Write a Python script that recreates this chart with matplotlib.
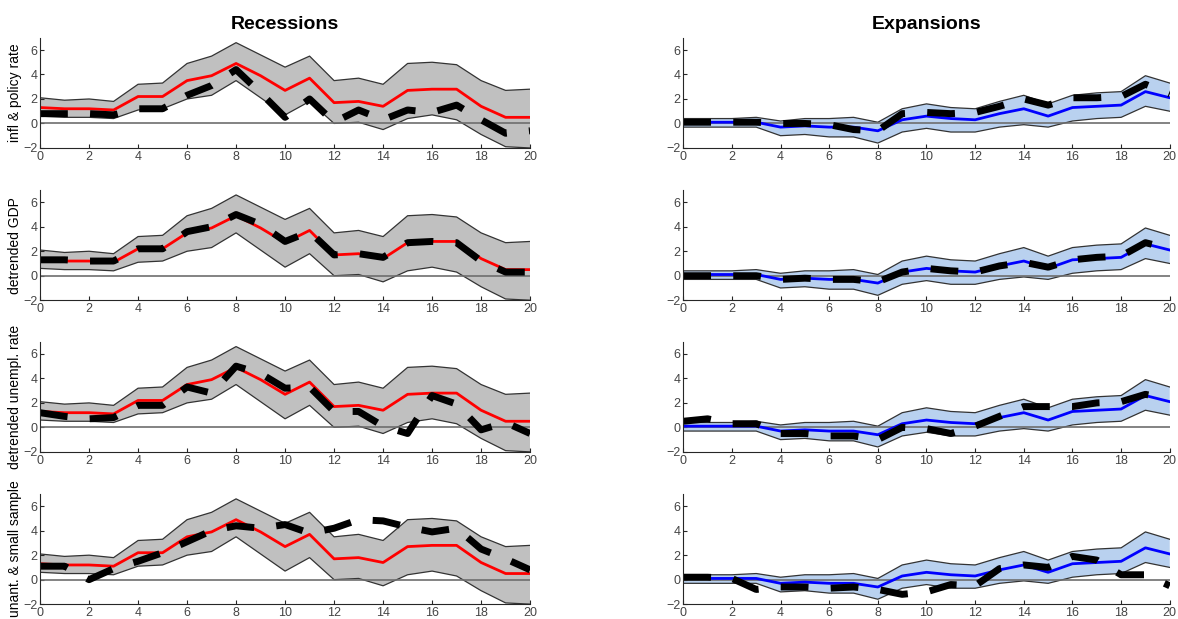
import matplotlib
matplotlib.use('Agg')
import matplotlib.pyplot as plt

plt.rcParams['font.family'] = ['Liberation Sans', 'DejaVu Sans']

# horizons
h = list(range(0, 21))

# recessions: median response and band
rec_med = [1.3, 1.2, 1.2, 1.1, 2.2, 2.2, 3.5, 3.9, 4.9, 3.9, 2.7, 3.7, 1.7, 1.8, 1.4, 2.7, 2.8, 2.8, 1.4, 0.5, 0.5]
rec_hi = [2.1, 1.9, 2.0, 1.8, 3.2, 3.3, 4.9, 5.5, 6.6, 5.6, 4.6, 5.5, 3.5, 3.7, 3.2, 4.9, 5.0, 4.8, 3.5, 2.7, 2.8]
rec_lo = [0.6, 0.5, 0.5, 0.4, 1.1, 1.2, 2.0, 2.3, 3.5, 2.1, 0.7, 1.8, 0.0, 0.1, -0.5, 0.4, 0.7, 0.3, -0.9, -1.9, -2.0]

# expansions: median response and band
exp_med = [0.1, 0.1, 0.1, 0.1, -0.3, -0.2, -0.3, -0.3, -0.6, 0.3, 0.6, 0.4, 0.3, 0.8, 1.2, 0.6, 1.3, 1.4, 1.5, 2.6, 2.1]
exp_hi = [0.4, 0.4, 0.4, 0.5, 0.2, 0.4, 0.4, 0.5, 0.1, 1.2, 1.6, 1.3, 1.2, 1.8, 2.3, 1.6, 2.3, 2.5, 2.6, 3.9, 3.3]
exp_lo = [-0.3, -0.3, -0.3, -0.3, -1.0, -0.9, -1.1, -1.1, -1.6, -0.7, -0.4, -0.7, -0.7, -0.3, -0.1, -0.3, 0.2, 0.4, 0.5, 1.4, 1.0]

# alternative specifications (black dashed)
row_labels = ['infl & policy rate', 'detrended GDP', 'detrended unempl. rate', 'unant. & small sample']

rec_alt1 = [0.8, 0.8, 0.8, 0.7, 1.2, 1.2, 2.3, 3.1, 4.4, 2.5, 0.5, 2.0, 0.1, 1.1, 0.3, 1.1, 0.9, 1.5, 0.3, -0.8, -0.6]
rec_alt2 = [1.3, 1.3, 1.2, 1.2, 2.2, 2.2, 3.6, 4.0, 5.0, 4.2, 2.8, 3.6, 1.7, 1.8, 1.5, 2.7, 2.8, 2.7, 1.2, 0.3, 0.3]
rec_alt3 = [1.2, 0.9, 0.7, 0.8, 1.8, 1.8, 3.3, 2.8, 5.0, 4.4, 3.2, 3.3, 1.3, 1.3, 0.1, -0.5, 2.6, 1.9, -0.2, 0.4, -0.5]
rec_alt4 = [1.1, 1.1, 0.0, 0.9, 1.5, 2.2, 3.1, 4.0, 4.4, 4.2, 4.5, 3.8, 4.2, 4.9, 4.8, 4.3, 3.9, 4.2, 2.5, 1.7, 0.8]

exp_alt1 = [0.1, 0.1, 0.1, 0.1, 0.0, 0.0, -0.1, -0.5, -0.6, 0.8, 0.9, 0.8, 0.9, 1.4, 2.0, 1.5, 2.1, 2.1, 2.2, 3.2, 2.4]
exp_alt2 = [0.0, 0.0, 0.0, 0.0, -0.3, -0.2, -0.3, -0.3, -0.5, 0.3, 0.6, 0.4, 0.3, 0.8, 1.1, 0.7, 1.3, 1.5, 1.6, 2.7, 2.2]
exp_alt3 = [0.5, 0.7, 0.3, 0.3, -0.5, -0.5, -0.7, -0.7, -1.0, 0.0, -0.1, -0.5, 0.1, 0.9, 1.7, 1.7, 1.7, 2.0, 2.1, 2.7, 2.3]
exp_alt4 = [0.2, 0.2, 0.1, -0.8, -0.6, -0.6, -0.7, -0.6, -0.8, -1.2, -1.0, -0.4, -0.5, 0.9, 1.2, 1.0, 1.9, 1.6, 0.4, 0.4, -0.5]

rec_alts = [rec_alt1, rec_alt2, rec_alt3, rec_alt4]
exp_alts = [exp_alt1, exp_alt2, exp_alt3, exp_alt4]

fig = plt.figure(figsize=(11.78, 6.19), dpi=100)

bottoms = [0.761, 0.515, 0.270, 0.024]
height = 0.178
cols = [(0.034, 0.416), (0.580, 0.413)]


def style_axes(ax):
    ax.set_xlim(0, 20)
    ax.set_ylim(-2, 7)
    ax.set_xticks(range(0, 21, 2))
    ax.set_yticks([-2, 0, 2, 4, 6])
    ax.spines['top'].set_visible(False)
    ax.spines['right'].set_visible(False)
    for s in ['left', 'bottom']:
        ax.spines[s].set_color('#262626')
        ax.spines[s].set_linewidth(0.8)
    ax.tick_params(direction='in', length=3, labelsize=9, colors='#262626',
                   labelcolor='#444444', pad=2)


for i in range(4):
    # recessions
    ax = fig.add_axes([cols[0][0], bottoms[i], cols[0][1], height])
    ax.fill_between(h, rec_lo, rec_hi, facecolor='#c0c0c0', edgecolor='none')
    ax.plot(h, rec_hi, color='#333333', lw=0.9)
    ax.plot(h, rec_lo, color='#333333', lw=0.9)
    ax.plot([0, 20], [0, 0], color='#6e6e6e', lw=1.2)
    ax.plot(h, rec_med, color='#ff0000', lw=2)
    ax.plot(h, rec_alts[i], color='black', lw=5, dashes=(4, 3.2), solid_capstyle='butt', dash_capstyle='butt')
    style_axes(ax)
    ax.set_ylabel(row_labels[i], fontsize=10, labelpad=1)
    if i == 0:
        ax.set_title('Recessions', fontsize=14, fontweight='bold', pad=6)

    # expansions
    ax = fig.add_axes([cols[1][0], bottoms[i], cols[1][1], height])
    ax.fill_between(h, exp_lo, exp_hi, facecolor='#b9d1ef', edgecolor='none')
    ax.plot(h, exp_hi, color='#333333', lw=0.9)
    ax.plot(h, exp_lo, color='#333333', lw=0.9)
    ax.plot([0, 20], [0, 0], color='#6e6e6e', lw=1.2)
    ax.plot(h, exp_med, color='#0000ff', lw=2)
    ax.plot(h, exp_alts[i], color='black', lw=5, dashes=(4, 3.2), solid_capstyle='butt', dash_capstyle='butt')
    style_axes(ax)
    if i == 0:
        ax.set_title('Expansions', fontsize=14, fontweight='bold', pad=6)

fig.savefig('out.png', dpi=100)
